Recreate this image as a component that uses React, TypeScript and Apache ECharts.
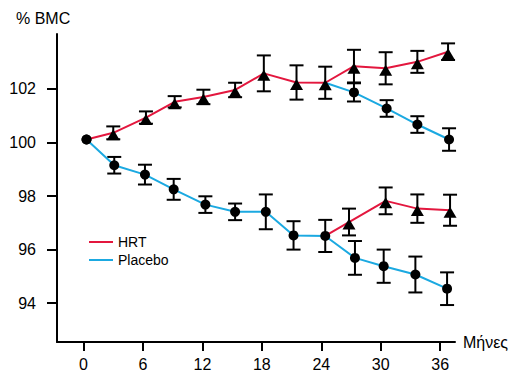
import React, { useEffect, useRef } from "react";
import * as echarts from "echarts";

// Months and % BMC values
const monthsHRT = [0.3, 3, 6.3, 9.2, 12.1, 15.3, 18.2, 21.5, 24.4, 27.3, 30.5, 33.7, 36.8];
const hrtGroup = [100.11, 100.36, 100.93, 101.52, 101.7, 101.96, 102.58, 102.24, 102.23, 102.85, 102.77, 103.01, 103.39];
const hrtGroupErr = [0, 0.24, 0.23, 0.21, 0.27, 0.27, 0.67, 0.64, 0.6, 0.61, 0.6, 0.41, 0.31];

const monthsPlacebo = [0.3, 3.1, 6.2, 9.1, 12.3, 15.3, 18.4, 21.2, 24.4, 27.4, 30.3, 33.5, 36.7];
const placeboGroup = [100.11, 99.15, 98.8, 98.25, 97.68, 97.41, 97.41, 96.53, 96.51, 95.69, 95.38, 95.07, 94.54];
const placeboGroupErr = [0, 0.31, 0.37, 0.39, 0.31, 0.31, 0.65, 0.53, 0.6, 0.63, 0.62, 0.67, 0.61];

// HRT group switched to placebo after 24 months
const monthsSwitchToPlacebo = [24.4, 27.3, 30.6, 33.7, 36.9];
const switchToPlacebo = [102.23, 101.87, 101.27, 100.67, 100.11];
const switchToPlaceboErr = [0, 0.34, 0.31, 0.31, 0.42];

// Placebo group switched to HRT after 24 months
const monthsSwitchToHRT = [24.4, 26.8, 30.5, 33.7, 37.0];
const switchToHRT = [96.51, 97.03, 97.82, 97.53, 97.47];
const switchToHRTErr = [0, 0.5, 0.5, 0.53, 0.58];

const xTicks = [0, 6, 12, 18, 24, 30, 36];
const yTicks = [94, 96, 98, 100, 102];

const RED = "#e3173e";
const BLUE = "#1ba9e1";
const FONT = "Liberation Sans, Arial, sans-serif";

function errData(xs: number[], ys: number[], es: number[]) {
  const out: number[][] = [];
  xs.forEach((x, i) => {
    if (es[i] > 0) out.push([x, ys[i] - es[i], ys[i] + es[i]]);
  });
  return out;
}

const renderErr = (params: any, api: any) => {
  const x = api.value(0);
  const top = api.coord([x, api.value(2)]);
  const bot = api.coord([x, api.value(1)]);
  const w = 7;
  const st = { stroke: "#000", lineWidth: 2 };
  return {
    type: "group",
    children: [
      { type: "line", shape: { x1: top[0], y1: top[1], x2: bot[0], y2: bot[1] }, style: st },
      { type: "line", shape: { x1: top[0] - w, y1: top[1], x2: top[0] + w, y2: top[1] }, style: st },
      { type: "line", shape: { x1: bot[0] - w, y1: bot[1], x2: bot[0] + w, y2: bot[1] }, style: st },
    ],
  };
};

function lineData(xs: number[], ys: number[], firstSymbol: string) {
  return xs.map((x, i) => {
    if (i === 0) {
      return { value: [x, ys[i]], symbol: firstSymbol, symbolSize: 10, symbolOffset: [0, 0] };
    }
    return { value: [x, ys[i]] };
  });
}

export default function App() {
  const ref = useRef<HTMLDivElement>(null);
  useEffect(() => {
    document.body.style.margin = "0";
    if (!ref.current) return;
    const chart = echarts.init(ref.current, undefined, { renderer: "svg" });
    const tri = { symbol: "triangle", symbolSize: [13, 11], symbolOffset: [0, 2] };
    const circ = { symbol: "circle", symbolSize: 10 };
    chart.setOption({
      animation: false,
      textStyle: { fontFamily: FONT },
      grid: { left: 57, right: 64, top: 34, bottom: 32 },
      legend: {
        orient: "vertical",
        left: 84,
        top: 230,
        itemWidth: 24,
        itemHeight: 2,
        itemGap: 4,
        textStyle: { fontSize: 14, color: "#000", fontFamily: FONT },
        data: [
          { name: "HRT", icon: "rect", itemStyle: { color: RED } },
          { name: "Placebo", icon: "rect", itemStyle: { color: BLUE } },
        ],
      },
      xAxis: {
        type: "value",
        min: -2.68,
        max: 37.5,
        name: "Μήνες",
        nameLocation: "end",
        nameGap: 8,
        nameTextStyle: { fontSize: 16, color: "#000", fontFamily: FONT },
        splitLine: { show: false },
        axisLine: { show: true, onZero: false, lineStyle: { color: "#000", width: 2 } },
        axisTick: { show: true, length: 9, lineStyle: { color: "#000", width: 2 }, customValues: xTicks },
        axisLabel: { fontSize: 16, color: "#000", margin: 14, customValues: xTicks, fontFamily: FONT },
      },
      yAxis: {
        type: "value",
        min: 92.55,
        max: 104.05,
        splitLine: { show: false },
        axisLine: { show: true, onZero: false, lineStyle: { color: "#000", width: 2 } },
        axisTick: { show: true, length: 10, lineStyle: { color: "#000", width: 2 }, customValues: yTicks },
        axisLabel: { fontSize: 16, color: "#000", margin: 21, customValues: yTicks, fontFamily: FONT },
      },
      graphic: [
        {
          type: "text",
          left: 16,
          top: 10,
          style: { text: "% BMC", fontSize: 16, fill: "#000", fontFamily: FONT },
        },
      ],
      series: [
        {
          type: "custom",
          name: "errHRT",
          renderItem: renderErr,
          data: errData(monthsHRT, hrtGroup, hrtGroupErr),
          z: 3,
        },
        {
          type: "custom",
          name: "errPlacebo",
          renderItem: renderErr,
          data: errData(monthsPlacebo, placeboGroup, placeboGroupErr),
          z: 3,
        },
        {
          type: "custom",
          name: "errSwitchP",
          renderItem: renderErr,
          data: errData(monthsSwitchToPlacebo, switchToPlacebo, switchToPlaceboErr),
          z: 3,
        },
        {
          type: "custom",
          name: "errSwitchH",
          renderItem: renderErr,
          data: errData(monthsSwitchToHRT, switchToHRT, switchToHRTErr),
          z: 3,
        },
        {
          type: "line",
          name: "Placebo",
          ...circ,
          showAllSymbol: true,
          data: lineData(monthsSwitchToPlacebo, switchToPlacebo, "none"),
          lineStyle: { color: BLUE, width: 2 },
          itemStyle: { color: "#000" },
          z: 4,
        },
        {
          type: "line",
          name: "HRT",
          ...tri,
          showAllSymbol: true,
          data: lineData(monthsSwitchToHRT, switchToHRT, "none"),
          lineStyle: { color: RED, width: 2 },
          itemStyle: { color: "#000" },
          z: 4,
        },
        {
          type: "line",
          name: "HRT",
          ...tri,
          showAllSymbol: true,
          data: lineData(monthsHRT, hrtGroup, "circle"),
          lineStyle: { color: RED, width: 2 },
          itemStyle: { color: "#000" },
          z: 5,
        },
        {
          type: "line",
          name: "Placebo",
          ...circ,
          showAllSymbol: true,
          data: lineData(monthsPlacebo, placeboGroup, "circle"),
          lineStyle: { color: BLUE, width: 2 },
          itemStyle: { color: "#000" },
          z: 5,
        },
      ],
    });
    return () => chart.dispose();
  }, []);
  return <div ref={ref} style={{ width: 519, height: 374 }} />;
}
